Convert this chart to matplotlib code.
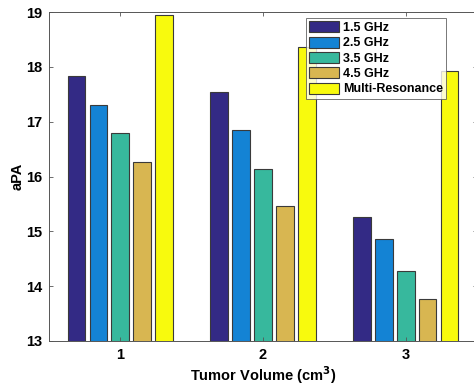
import numpy as np
import matplotlib.pyplot as plt

volumes = [1, 2, 3]
series_names = ['1.5 GHz', '2.5 GHz', '3.5 GHz', '4.5 GHz', 'Multi-Resonance']
apa_15 = [17.84, 17.54, 15.27]
apa_25 = [17.31, 16.85, 14.86]
apa_35 = [16.80, 16.13, 14.27]
apa_45 = [16.27, 15.47, 13.76]
apa_multi = [18.95, 18.36, 17.92]
colors = ['#332a85', '#1483d4', '#37b89d', '#d8b651', '#f8fa0d']

plt.rcParams['font.family'] = ['Liberation Sans', 'DejaVu Sans']
plt.rcParams['font.weight'] = 'bold'

fig = plt.figure(figsize=(4.74, 3.88), dpi=100)
ax = fig.add_axes([49 / 474, 1 - 341 / 388, 428 / 474, 329 / 388])

x = np.array(volumes)
step = 0.154
width = 0.124
for i, (vals, name) in enumerate(zip([apa_15, apa_25, apa_35, apa_45, apa_multi], series_names)):
    ax.bar(x + (i - 2) * step, vals, width, color=colors[i], edgecolor='#3a3a3a',
           linewidth=0.8, label=name)

ax.set_xlim(0.5, 3.5)
ax.set_ylim(13, 19)
ax.set_xticks(volumes)
ax.set_yticks(range(13, 20))
ax.tick_params(direction='in', top=True, right=True, labelsize=10.5, length=3,
               color='#555555', width=0.6, pad=5)
for s in ax.spines.values():
    s.set_color('#555555')
    s.set_linewidth(0.7)

ax.set_xlabel('Tumor Volume (cm$^\\mathbf{3}$)', fontsize=10.5, fontweight='bold', labelpad=2)
ax.set_ylabel('aPA', fontsize=10.5, fontweight='bold', labelpad=1)

leg = ax.legend(loc='upper left', bbox_to_anchor=(257 / 428, 1 - 6 / 329),
                fontsize=9, frameon=True, fancybox=False, handlelength=2.4,
                handleheight=1.0, handletextpad=0.3, labelspacing=0.2,
                borderpad=0.25, borderaxespad=0)
leg.get_frame().set_edgecolor('#555555')
leg.get_frame().set_linewidth(0.7)

fig.savefig('out.png', dpi=100)
